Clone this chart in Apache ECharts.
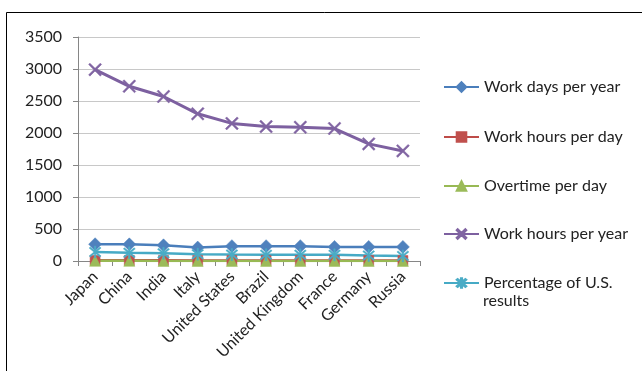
<!DOCTYPE html>
<html>
<head>
<meta charset="utf-8">
<script src="https://cdn.jsdelivr.net/npm/echarts@6/dist/echarts.min.js"></script>
<style>
  html, body { margin: 0; padding: 0; background: #fff; }
  #chart { width: 642px; height: 371px; }
</style>
</head>
<body>
<div id="chart"></div>
<script>
// Countries along the category axis
const countries = ['Japan', 'China', 'India', 'Italy', 'United States', 'Brazil', 'United Kingdom', 'France', 'Germany', 'Russia'];

// Series values per country
const workDaysPerYear   = [262, 260, 245, 210, 232, 232, 232, 220, 220, 220];
const workHoursPerDay   = [10, 10, 10, 9, 9, 8, 8, 8, 8, 8];
const overtimePerDay    = [2, 2, 1, 1, 1, 1, 1, 1, 1, 1];
const workHoursPerYear  = [2990, 2730, 2570, 2300, 2150, 2100, 2090, 2070, 1830, 1720];
const percentOfUS       = [140, 127, 120, 107, 100, 98, 97, 96, 85, 80];

// Value axis ticks
const yTicks = { min: 0, max: 3500, interval: 500 };

const FONT = 'Lato';

// Marker shapes
const X_MARK = 'path://M0,1L1,0L5,4L9,0L10,1L6,5L10,9L9,10L5,6L1,10L0,9L4,5Z';
const STAR_MARK = 'path://M0,1L1,0L5,4L9,0L10,1L6,5L10,9L9,10L5,6L1,10L0,9L4,5Z M4.4,-1H5.6V11H4.4Z';

const seriesDefs = [
  { name: 'Work days per year', data: workDaysPerYear, line: '#4a7ebb', fill: '#4f81bd', symbol: 'diamond', size: 13, width: 2.5 },
  { name: 'Work hours per day', data: workHoursPerDay, line: '#be4b48', fill: '#c0504d', symbol: 'rect', size: 10, width: 2.5 },
  { name: 'Overtime per day', data: overtimePerDay, line: '#98b954', fill: '#9bbb59', symbol: 'triangle', size: 11, width: 2.5 },
  { name: 'Work hours per year', data: workHoursPerYear, line: '#7d60a0', fill: '#8064a2', symbol: X_MARK, size: 13, width: 3 },
  { name: 'Percentage of U.S. results', data: percentOfUS, line: '#46aac5', fill: '#4bacc6', symbol: STAR_MARK, size: 12, width: 2.5 }
];

// Legend rows (first line of each entry)
const legendCenters = [87, 137, 186, 234, 283];

const chart = echarts.init(document.getElementById('chart'), null, { renderer: 'canvas' });

chart.setOption({
  backgroundColor: '#ffffff',
  animation: false,
  graphic: [
    {
      type: 'polyline',
      shape: { points: [[6.5, 380], [6.5, 12.5], [660, 12.5]] },
      style: { stroke: '#000', lineWidth: 1, fill: null },
      silent: true
    },
    {
      // second line of the last legend entry
      type: 'text',
      left: 483,
      top: legendCenters[4] + 10,
      style: { text: 'results', font: '16px ' + FONT, fill: '#222' },
      silent: true
    }
  ],
  grid: { left: 78, top: 37, width: 342, bottom: 110 },
  xAxis: {
    type: 'category',
    data: countries,
    boundaryGap: true,
    axisLine: { lineStyle: { color: '#868686', width: 1 } },
    axisTick: { show: true, interval: 0, length: 5, lineStyle: { color: '#868686' } },
    axisLabel: { interval: 0, rotate: 45, margin: 13, color: '#222', fontFamily: FONT, fontSize: 16 }
  },
  yAxis: {
    type: 'value',
    min: yTicks.min, max: yTicks.max, interval: yTicks.interval,
    axisLine: { show: true, lineStyle: { color: '#868686', width: 1 } },
    axisTick: { show: true, length: 5, lineStyle: { color: '#868686' } },
    axisLabel: { margin: 16, color: '#222', fontFamily: FONT, fontSize: 16, formatter: v => String(v) },
    splitLine: { lineStyle: { color: '#c8c8c8', width: 1 } }
  },
  legend: seriesDefs.map((s, i) => ({
    data: [s.name],
    orient: 'vertical',
    left: 443,
    top: legendCenters[i] - 10,
    padding: 0,
    itemWidth: 35,
    itemHeight: 12,
    itemGap: 0,
    selectedMode: false,
    formatter: n => n === 'Percentage of U.S. results' ? 'Percentage of U.S.' : n,
    textStyle: { fontFamily: FONT, fontSize: 16, color: '#222', lineHeight: 20 }
  })),
  series: seriesDefs.map(s => ({
    name: s.name,
    type: 'line',
    data: s.data,
    symbol: s.symbol,
    symbolSize: s.size,
    showAllSymbol: true,
    lineStyle: { color: s.line, width: s.width },
    itemStyle: { color: s.fill, borderColor: s.fill, borderWidth: 0.5 }
  }))
});
</script>
</body>
</html>
